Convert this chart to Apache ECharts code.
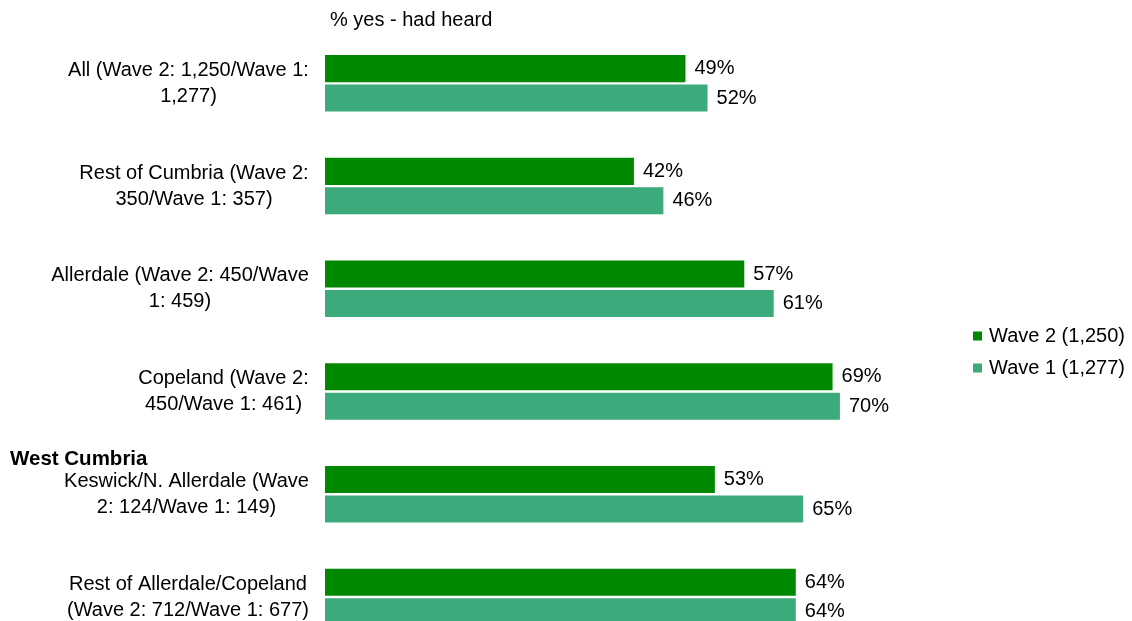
<!DOCTYPE html>
<html>
<head>
<meta charset="utf-8">
<script src="https://cdn.jsdelivr.net/npm/echarts@6/dist/echarts.min.js"></script>
<style>html,body{margin:0;padding:0;background:#fff;}#c{width:1132px;height:621px;}</style>
</head>
<body>
<div id="c"></div>
<script>
const categories = [
  'All (Wave 2: 1,250/Wave 1:\n1,277)',
  'Rest of Cumbria (Wave 2:\n350/Wave 1: 357)',
  'Allerdale (Wave 2: 450/Wave\n1: 459)',
  'Copeland (Wave 2:\n450/Wave 1: 461)',
  'Keswick/N. Allerdale (Wave\n2: 124/Wave 1: 149)',
  'Rest of Allerdale/Copeland\n(Wave 2: 712/Wave 1: 677)'
];
const seriesNames = ['Wave 2 (1,250)', 'Wave 1 (1,277)'];
const wave2 = [49, 42, 57, 69, 53, 64];
const wave1 = [52, 46, 61, 70, 65, 64];
const chartTitle = '% yes - had heard';
const groupHeading = 'West Cumbria';

const FONT = '"Liberation Sans", Arial, sans-serif';
const FS = 20;
const ctx = document.createElement('canvas').getContext('2d');
ctx.font = FS + 'px ' + FONT;
const rich = {};
categories.forEach((c, i) => {
  const w = Math.max(...c.split('\n').map(l => ctx.measureText(l).width));
  rich['r' + i] = { width: Math.ceil(w), align: 'center', fontSize: FS, lineHeight: 26, color: '#000', fontFamily: FONT };
});

const chart = echarts.init(document.getElementById('c'), null, { renderer: 'canvas' });
chart.setOption({
  animation: false,
  backgroundColor: '#fff',
  textStyle: { fontFamily: FONT },
  title: [
    { text: chartTitle, left: 325, top: 5, textStyle: { fontSize: FS, fontWeight: 'normal', color: '#000', fontFamily: FONT } },
    { text: groupHeading, left: 5, top: 444, textStyle: { fontSize: 20.5, fontWeight: 'bold', color: '#000', fontFamily: FONT } }
  ],
  legend: {
    orient: 'vertical',
    left: 968,
    top: 321,
    itemWidth: 9,
    itemHeight: 9,
    itemGap: 12,
    icon: 'rect',
    textStyle: { fontSize: FS, color: '#000', fontFamily: FONT, padding: [0, 0, 0, 2] },
    data: seriesNames
  },
  grid: { left: 325, top: 32, width: 735.6, height: 616.4, containLabel: false, outerBoundsMode: 'none' },
  xAxis: {
    type: 'value', min: 0, max: 100, show: false
  },
  yAxis: {
    type: 'category',
    inverse: true,
    data: categories,
    axisLine: { show: false },
    axisTick: { show: false },
    axisLabel: {
      margin: 16,
      formatter: (v, i) => v.split('\n').map(l => '{r' + i + '|' + l + '}').join('\n'),
      rich: rich
    }
  },
  series: [
    {
      name: seriesNames[0], type: 'bar', data: wave2,
      barCategoryGap: '45%', barGap: '9%',
      itemStyle: { color: '#008800' },
      label: { show: true, position: 'right', distance: 9, formatter: '{c}%', fontSize: FS, color: '#000', fontFamily: FONT }
    },
    {
      name: seriesNames[1], type: 'bar', data: wave1,
      barCategoryGap: '45%', barGap: '9%',
      itemStyle: { color: '#3caa7a' },
      label: { show: true, position: 'right', distance: 9, formatter: '{c}%', fontSize: FS, color: '#000', fontFamily: FONT }
    }
  ]
});
</script>
</body>
</html>
